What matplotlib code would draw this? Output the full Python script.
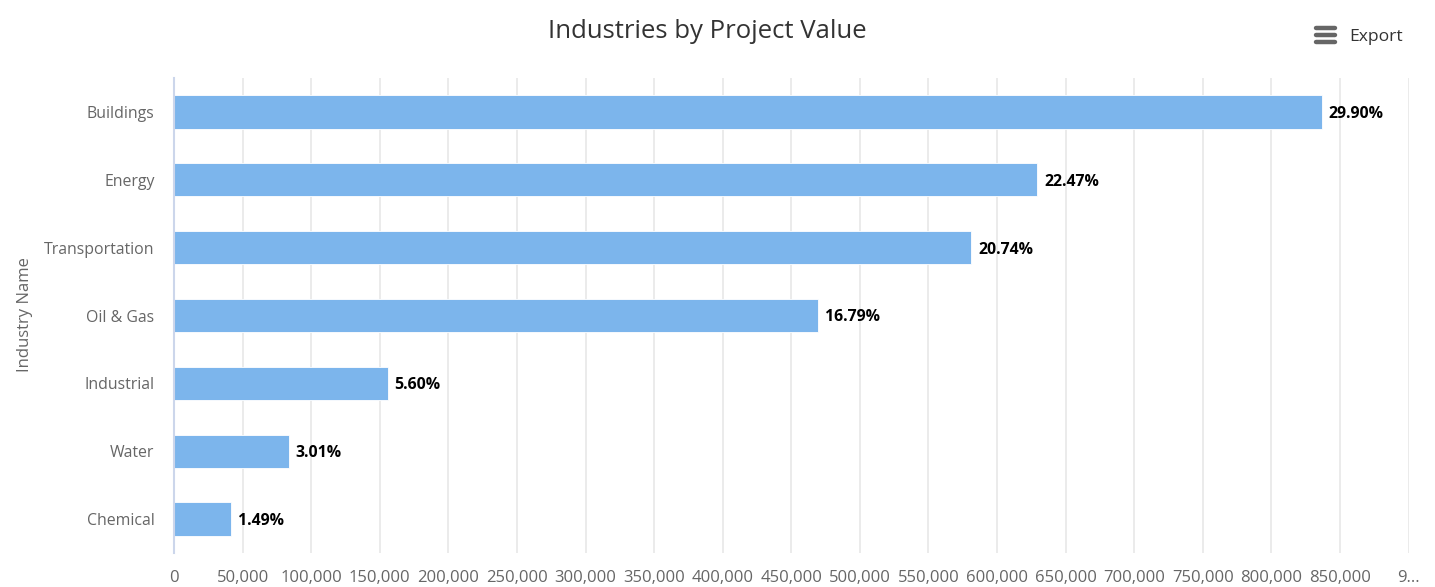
import matplotlib
matplotlib.use("Agg")
import matplotlib.pyplot as plt
from matplotlib.lines import Line2D
import numpy as np

plt.rcParams['font.family'] = ['Open Sans', 'DejaVu Sans']

industries = ["Buildings", "Energy", "Transportation", "Oil & Gas", "Industrial", "Water", "Chemical"]
values = [836700, 629300, 581200, 469700, 155800, 83500, 41500]
shares = ["29.90%", "22.47%", "20.74%", "16.79%", "5.60%", "3.01%", "1.49%"]
x_ticks = list(range(0, 900001, 50000))
x_labels = ["0", "50,000", "100,000", "150,000", "200,000", "250,000", "300,000", "350,000", "400,000",
            "450,000", "500,000", "550,000", "600,000", "650,000", "700,000", "750,000", "800,000",
            "850,000", "9..."]

W, H = 1435, 587
fig = plt.figure(figsize=(W / 100, H / 100), dpi=100)

# axes box in pixels, same as the reference
left, right, top, bottom = 174, 1408.5, 78, 553
ax = fig.add_axes([left / W, 1 - bottom / H, (right - left) / W, (bottom - top) / H])

y = np.arange(len(industries))
ax.barh(y, values, height=0.49, color="#7cb5ec", edgecolor="white", linewidth=0.6, zorder=3)

ax.set_xlim(0, 900000)
ax.set_ylim(6.5, -0.5)
ax.set_xticks(x_ticks)
ax.set_xticklabels(x_labels)
ax.set_yticks(y)
ax.set_yticklabels(industries)
ax.tick_params(axis="x", length=0, pad=12, labelsize=12, labelcolor="#666666")
ax.tick_params(axis="y", length=0, pad=14, labelsize=11.4, labelcolor="#666666")
ax.grid(axis="x", color="#e6e6e6", linewidth=1.1, zorder=0)
ax.grid(axis="y", visible=False)

for s in ["top", "right", "bottom"]:
    ax.spines[s].set_visible(False)
ax.spines["left"].set_color("#ccd6eb")
ax.spines["left"].set_linewidth(1.5)
ax.spines["left"].set_zorder(4)

for yy, v, s in zip(y, values, shares):
    ax.annotate(s, (v, yy), xytext=(5, -1.4), textcoords="offset points", va="center", ha="left",
                fontsize=11.4, fontweight="bold", color="black", zorder=5)

fig.text(25 / W, 1 - 315 / H, "Industry Name", rotation=90, ha="center", va="center",
         fontsize=12, color="#666666")
fig.text(707 / W, 1 - 31.5 / H, "Industries by Project Value", ha="center", va="center",
         fontsize=18.5, color="#333333")

# Export menu
for py in [28, 35, 42]:
    fig.add_artist(Line2D([1316 / W, 1335 / W], [1 - py / H, 1 - py / H], color="#666666",
                          linewidth=3.2, solid_capstyle="round"))
fig.text(1349 / W, 1 - 37 / H, "Export", ha="left", va="center", fontsize=12.6, color="#333333")

fig.savefig("out.png", dpi=100)
